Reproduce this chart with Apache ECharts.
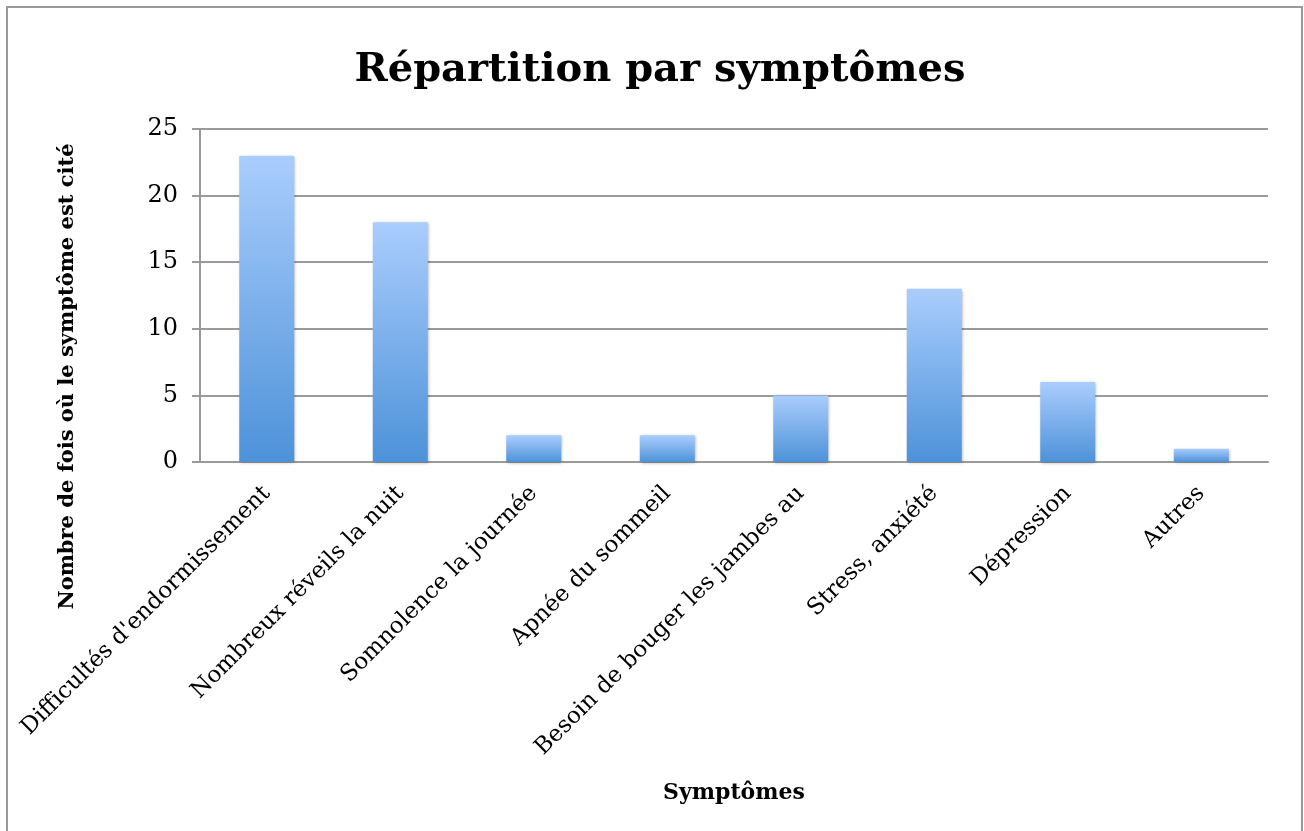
<!DOCTYPE html>
<html>
<head>
<meta charset="utf-8">
<script src="https://cdn.jsdelivr.net/npm/echarts@6/dist/echarts.min.js"></script>
<style>
  html, body { margin: 0; padding: 0; background: #fff; }
  #main { width: 1304px; height: 831px; }
</style>
</head>
<body>
<div id="main"></div>
<script>
// données
const symptomes = [
  'Difficultés d\'endormissement',
  'Nombreux réveils la nuit',
  'Somnolence la journée',
  'Apnée du sommeil',
  'Besoin de bouger les jambes au',
  'Stress, anxiété',
  'Dépression',
  'Autres'
];
const nbCites = [23, 18, 2, 2, 5, 13, 6, 1];
const yMin = 0;
const yMax = 25;
const yStep = 5;

const chart = echarts.init(document.getElementById('main'));
const serif = 'DejaVu Serif';

const option = {
  animation: false,
  backgroundColor: '#fff',
  graphic: [{
    type: 'rect',
    shape: { x: 7, y: 7, width: 1295, height: 840 },
    style: { fill: 'none', stroke: '#9a9a9a', lineWidth: 2 },
    silent: true
  }],
  title: {
    text: 'Répartition par symptômes',
    left: 655,
    top: 46,
    textAlign: 'center',
    textStyle: { fontFamily: serif, fontWeight: 'bold', fontSize: 40, color: '#000' }
  },
  grid: { left: 200, right: 36, top: 129, bottom: 369 },
  xAxis: {
    type: 'category',
    data: symptomes,
    name: 'Symptômes',
    nameLocation: 'middle',
    nameGap: 320,
    nameTextStyle: { fontFamily: serif, fontWeight: 'bold', fontSize: 22, color: '#000' },
    axisLine: { lineStyle: { color: '#9a9a9a', width: 2 } },
    axisTick: { show: false },
    axisLabel: {
      rotate: 45,
      interval: 0,
      margin: 28,
      fontFamily: serif,
      fontSize: 23,
      color: '#000'
    }
  },
  yAxis: {
    type: 'value',
    min: yMin,
    max: yMax,
    interval: yStep,
    name: 'Nombre de fois où le symptôme est cité',
    nameLocation: 'middle',
    nameGap: 122,
    nameTextStyle: {
      fontFamily: serif, fontWeight: 'bold', fontSize: 21, color: '#000',
      padding: [0, 162, 0, 0]
    },
    axisLine: { show: true, lineStyle: { color: '#9a9a9a', width: 2 } },
    axisTick: { show: true, length: 8, lineStyle: { color: '#9a9a9a', width: 2 } },
    splitLine: { lineStyle: { color: '#9a9a9a', width: 2 } },
    axisLabel: { margin: 22, fontFamily: serif, fontSize: 24, color: '#000' }
  },
  series: [{
    type: 'bar',
    data: nbCites,
    barWidth: 55,
    itemStyle: {
      color: new echarts.graphic.LinearGradient(0, 0, 0, 1, [
        { offset: 0, color: '#aacdfd' },
        { offset: 1, color: '#4d92d8' }
      ]),
      shadowColor: 'rgba(0,0,0,0.3)',
      shadowBlur: 3,
      shadowOffsetX: 1,
      shadowOffsetY: 1
    }
  }]
};

chart.setOption(option);
</script>
</body>
</html>
